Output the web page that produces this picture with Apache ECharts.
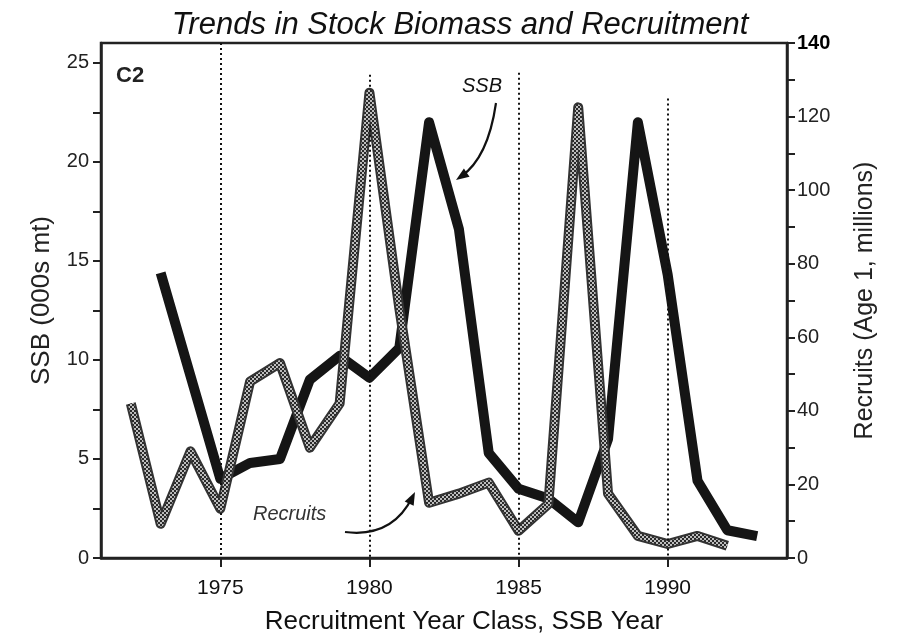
<!DOCTYPE html>
<html>
<head>
<meta charset="utf-8">
<title>Trends in Stock Biomass and Recruitment</title>
<script src="https://cdn.jsdelivr.net/npm/echarts@6.0.0/dist/echarts.min.js"></script>
<style>
  html,body{margin:0;padding:0;background:#fff;}
  #main{width:903px;height:642px;}
</style>
</head>
<body>
<div id="main"></div>
<script>
// data
var years = [1972,1973,1974,1975,1976,1977,1978,1979,1980,1981,1982,1983,1984,1985,1986,1987,1988,1989,1990,1991,1992,1993];
// SSB, 000s mt (left axis)
var ssb = [null,14.4,9.2,4.0,4.8,5.0,9.0,10.2,9.1,10.6,22.0,16.6,5.3,3.5,3.0,1.8,6.0,22.0,14.3,3.9,1.4,1.1];
// Recruits, age 1, millions (right axis)
var recruits = [42,9.3,29,13.4,48,53,30,42,126.5,68,15,17.5,20.5,7.4,14.7,122.5,17.5,6,3.8,6,3.3,null];

var yearTicks = [1975,1980,1985,1990];
var ssbTicks = [0,5,10,15,20,25];
var ssbMinor = [0,2.5,5,7.5,10,12.5,15,17.5,20,22.5,25];
// top ends of the dotted year lines (SSB units)
var guideTops = [26,24.4,24.5,23.2];

var FONT = "'Liberation Sans', Arial, Helvetica, sans-serif";

//halftone pattern for recruits line
var pc = document.createElement('canvas');
pc.width = 4; pc.height = 4;
var pctx = pc.getContext('2d');
pctx.fillStyle = '#bdbdbd';
pctx.fillRect(0,0,4,4);
pctx.fillStyle = '#2a2a2a';
pctx.fillRect(0,0,2,2);
pctx.fillRect(2,2,2,2);

function pairs(vals){
  var out = [];
  for(var i=0;i<years.length;i++){
    if(vals[i]!=null) out.push([years[i],vals[i]]);
  }
  return out;
}

// arrow = curve + head
function arrow(x0,y0,cx,cy,x1,y1){
  var dx = x1-cx, dy = y1-cy;
  var len = Math.sqrt(dx*dx+dy*dy);
  dx/=len; dy/=len;
  var L = 13, W = 5;
  var bx = x1-dx*L, by = y1-dy*L;
  return [
    {type:'bezierCurve',shape:{x1:x0,y1:y0,cpx1:cx,cpy1:cy,x2:x1-dx*6,y2:y1-dy*6},
     style:{stroke:'#111',lineWidth:2.2,fill:null},z:20},
    {type:'polygon',shape:{points:[[x1,y1],[bx-dy*W,by+dx*W],[bx+dy*W,by-dx*W]]},
     style:{fill:'#111'},z:20}
  ];
}

var guideLines = [];
for(var i=0;i<yearTicks.length;i++){
  guideLines.push([{coord:[yearTicks[i],guideTops[i]]},{coord:[yearTicks[i],0]}]);
}

var myChart = echarts.init(document.getElementById('main'));

var option = {
  backgroundColor:'#fff',
  animation:false,
  textStyle:{fontFamily:FONT},
  grid:{left:101,right:116,top:43,bottom:84,show:true,borderColor:'#222',borderWidth:2.5},
  xAxis:{
    type:'value',min:1971,max:1994,
    axisLine:{lineStyle:{color:'#222',width:2.5}},
    axisTick:{customValues:yearTicks,inside:false,length:9,lineStyle:{color:'#222',width:2}},
    axisLabel:{customValues:yearTicks,fontSize:21,color:'#111',margin:20,fontFamily:FONT,
      formatter:function(v){ return String(v); }},
    splitLine:{show:false}
  },
  yAxis:[{
    type:'value',min:0,max:26,position:'left',
    name:'SSB (000s mt)',nameLocation:'middle',nameGap:46,
    nameTextStyle:{fontSize:26,color:'#222',fontFamily:FONT},
    axisLine:{show:true,lineStyle:{color:'#222',width:2.5}},
    axisTick:{customValues:ssbMinor,length:8,lineStyle:{color:'#222',width:2}},
    axisLabel:{customValues:ssbTicks,fontSize:20,color:'#222',margin:12,fontFamily:FONT},
    splitLine:{show:false}
  },{
    type:'value',min:0,max:140,interval:20,position:'right',
    name:'Recruits (Age 1, millions)',nameLocation:'middle',nameGap:66,
    nameTextStyle:{fontSize:25,color:'#222',fontFamily:FONT},
    axisLine:{show:true,lineStyle:{color:'#222',width:2.5}},
    axisTick:{length:8,lineStyle:{color:'#222',width:2}},
    minorTick:{show:true,splitNumber:2,length:8,lineStyle:{color:'#222',width:2}},
    axisLabel:{fontSize:20,color:'#222',margin:10,fontFamily:FONT,
      formatter:function(v){ return v===140 ? '{b|140}' : v; },
      rich:{b:{fontSize:20,fontWeight:'bold',color:'#000',fontFamily:FONT}}},
    splitLine:{show:false}
  }],
  series:[{
    name:'SSB',type:'line',yAxisIndex:0,
    data:pairs(ssb),symbol:'none',
    lineStyle:{color:'#151515',width:10,join:'round',cap:'butt'},
    markLine:{
      silent:true,symbol:'none',label:{show:false},
      lineStyle:{color:'#111',type:[2,3],width:2},
      data:guideLines
    },
    z:3
  },{
    name:'Recruits outline',type:'line',yAxisIndex:1,
    data:pairs(recruits),symbol:'none',
    lineStyle:{color:'#333',width:10,join:'round'},
    z:4
  },{
    name:'Recruits',type:'line',yAxisIndex:1,
    data:pairs(recruits),symbol:'none',
    lineStyle:{color:{image:pc,repeat:'repeat'},width:6,join:'round'},
    z:5
  }],
  graphic:[
    {type:'text',x:460,y:25,style:{text:'Trends in Stock Biomass and Recruitment',font:'italic 31px '+FONT,fill:'#111',align:'center',verticalAlign:'middle'}},
    {type:'text',x:464,y:622,style:{text:'Recruitment Year Class, SSB Year',font:'26px '+FONT,fill:'#111',align:'center',verticalAlign:'middle'}},
    {type:'text',x:116,y:76,style:{text:'C2',font:'bold 22px '+FONT,fill:'#222',align:'left',verticalAlign:'middle'},z:20},
    {type:'text',x:462,y:86,style:{text:'SSB',font:'italic 20px '+FONT,fill:'#111',align:'left',verticalAlign:'middle'},z:20},
    {type:'text',x:253,y:514,style:{text:'Recruits',font:'italic 20px '+FONT,fill:'#333',align:'left',verticalAlign:'middle'},z:20}
  ].concat(arrow(496,103,488,158,456,180)).concat(arrow(345,532,392,538,415,492))
};

myChart.setOption(option);
</script>
</body>
</html>
